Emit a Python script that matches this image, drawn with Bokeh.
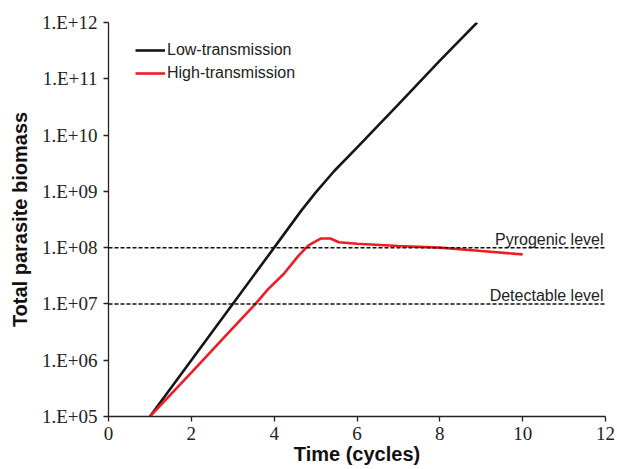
from bokeh.plotting import figure
from bokeh.models import Range1d, FixedTicker, CustomJSTickFormatter, Span, Legend, LegendItem
from bokeh.core.properties import value
from bokeh.embed import file_html
from bokeh.resources import INLINE

# ---- data ----
low_cycles = [1, 2, 3, 4, 4.65, 5.0, 5.45, 6, 7, 8, 8.9]
low_biomass = [1.0e5, 1.0e6, 1.0e7, 1.0e8, 4.5e8, 9.5e8, 2.3e9, 6.0e9, 3.5e10, 2.1e11, 1.0e12]

high_cycles = [1, 2, 3, 3.55, 3.86, 4.23, 4.59, 4.83, 5.12, 5.36, 5.56, 6, 7, 8, 9, 10]
high_biomass = [1.0e5, 6.0e5, 3.7e6, 1.0e7, 1.85e7, 3.4e7, 7.2e7, 1.1e8, 1.45e8, 1.45e8,
                1.25e8, 1.17e8, 1.07e8, 1.0e8, 8.7e7, 7.6e7]

threshold_levels = [1.0e8, 1.0e7]
threshold_labels = ["Pyrogenic level", "Detectable level"]
threshold_label_x = [12, 12]

x_ticks = [0, 2, 4, 6, 8, 10, 12]
y_ticks = [1e5, 1e6, 1e7, 1e8, 1e9, 1e10, 1e11, 1e12]
series_names = ["Low-transmission", "High-transmission"]
x_title = "Time (cycles)"
y_title = "Total parasite biomass"

SANS = "Liberation Sans"
SERIF = "Liberation Serif"

p = figure(width=617, height=469, output_backend="svg", toolbar_location=None,
           y_axis_type="log", x_range=Range1d(0, 12), y_range=Range1d(1e5, 1e12),
           min_border_left=108, min_border_right=12, min_border_top=22, min_border_bottom=53)
p.outline_line_color = None
p.grid.grid_line_color = None
p.background_fill_color = "white"
p.border_fill_color = "white"

# axes
p.xaxis.ticker = FixedTicker(ticks=x_ticks)
p.yaxis.ticker = FixedTicker(ticks=y_ticks)
p.yaxis.formatter = CustomJSTickFormatter(
    code="return '1.E+' + String(Math.round(Math.log10(tick))).padStart(2, '0');")
for ax in (p.xaxis, p.yaxis):
    ax.axis_line_color = "#222222"
    ax.axis_line_width = 1.3
    ax.major_tick_line_color = "#222222"
    ax.major_tick_line_width = 1.3
    ax.major_tick_out = 5
    ax.major_tick_in = 0
    ax.minor_tick_line_color = None
    ax.major_label_text_font = SERIF
    ax.major_label_text_font_size = "19px"
    ax.major_label_text_color = "#222222"
    ax.axis_label_text_font = SANS
    ax.axis_label_text_font_style = "bold"
    ax.axis_label_text_font_size = "20px"
    ax.axis_label_text_color = "#111111"
p.xaxis.major_label_standoff = 5
p.yaxis.major_label_standoff = 6
p.xaxis.axis_label = x_title
p.yaxis.axis_label = y_title
p.xaxis.axis_label_standoff = 0
p.yaxis.axis_label_standoff = 8

# threshold lines
for lvl in threshold_levels:
    p.add_layout(Span(location=lvl, dimension="width", line_color="#111111",
                      line_width=1.5, line_dash="4 2"))

p.text(x=threshold_label_x, y=threshold_levels, text=threshold_labels,
       text_font=value(SANS), text_font_size="16px", text_color="#222222",
       text_align="right", text_baseline="alphabetic", x_offset=-2, y_offset=-8)

# series
r_low = p.line(low_cycles, low_biomass, line_color="#161616", line_width=2.6)
r_high = p.line(high_cycles, high_biomass, line_color="#ee1c24", line_width=2.6)

legend = Legend(items=[LegendItem(label=series_names[0], renderers=[r_low]),
                       LegendItem(label=series_names[1], renderers=[r_high])],
                location=(27, 333), glyph_width=30, glyph_height=20, label_height=20,
                spacing=3, padding=0, margin=0, label_standoff=2,
                border_line_color=None, background_fill_alpha=0,
                label_text_font=SANS, label_text_font_size="16px",
                label_text_color="#222222")
p.add_layout(legend)

open("out.html", "w").write(file_html(p, INLINE))
